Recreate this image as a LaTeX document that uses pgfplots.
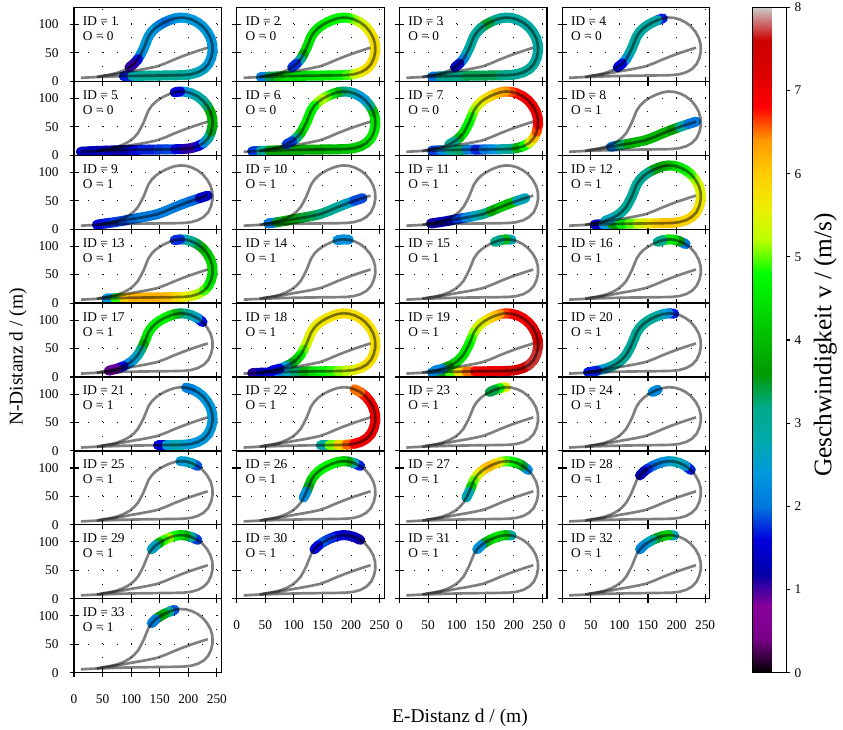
\documentclass[border=0pt]{standalone}
\usepackage{fontspec}
\setmainfont{Liberation Serif}
\usepackage{pgfplots}
\usepackage{pgfplotstable}
\pgfplotsset{compat=1.18}

\pgfplotsset{
  colormap={nipy}{rgb=(0,0,0) rgb=(0.4667,0,0.5333) rgb=(0.5333,0,0.6) rgb=(0,0,0.6667) rgb=(0,0,0.8667) rgb=(0,0.4667,0.8667) rgb=(0,0.6,0.8667) rgb=(0,0.6667,0.6667) rgb=(0,0.6667,0.5333) rgb=(0,0.6,0) rgb=(0,0.7333,0) rgb=(0,0.8667,0) rgb=(0,1,0) rgb=(0.7333,1,0) rgb=(0.9333,0.9333,0) rgb=(1,0.8,0) rgb=(1,0.6,0) rgb=(1,0,0) rgb=(0.8667,0,0) rgb=(0.8,0,0) rgb=(0.8,0.8,0.8)},
  panel/.style={
    anchor=north west, scale only axis, width=110.6pt, height=55.45pt,
    xmin=0, xmax=258, ymin=0, ymax=130,
    xtick={0,50,100,150,200,250}, ytick={0,50,100},
    xticklabels={}, yticklabels={},
    tick pos=left, tick align=center, major tick length=6.75pt,
    tick style={black, line width=0.8pt},
    axis line style={black, line width=0.9pt},
    grid=major, major grid style={black, line width=0.75pt, dash pattern=on 0.75pt off 9.95pt},
    colormap name=nipy, point meta min=0, point meta max=8,
    tick label style={font=\fontsize{10}{12}\selectfont},
    xticklabel shift=9.5pt, yticklabel shift=4.7pt,
  },
  xlab/.style={xticklabels={0,50,100,150,200,250}},
  ylab/.style={yticklabels={0,50,100}},
  band/.style={mesh, shader=flat mean, point meta=explicit, line width=7.5pt, line cap=round, unbounded coords=jump, no markers},
  track/.style={black, opacity=0.5, line width=2pt, no markers, line join=round},
}
\tikzset{idlab/.style={anchor=base west, inner sep=0pt, font=\fontsize{10}{12}\selectfont}}

\newcommand{\panel}[7]{%
\begin{axis}[panel, at={({55.5pt+#1*122.06pt},{-5.48pt-#2*55.45pt})}, #7]
\addplot[band] table[x=x, y expr={\thisrow{y}+0*\thisrow{#6}}, meta=#6] {#5};
\addplot[track] table[x=x, y=y] {\looptable};
\addplot[track] table[x=x, y=y, skip coords between index={0}{2}] {\diagtable};
\node[idlab] at (rel axis cs:0.059,0.757) {ID = #3};
\node[idlab] at (rel axis cs:0.059,0.554) {O = #4};
\end{axis}}

\pgfplotstableread[header=false]{
x    12 27 42 57  72 87 102 117  132 147 162 177  192 205 217 227  235 240 242.5 242  239 233 225 216  206 196 186 176  167 158 150 143  136 130 126 122  117 112 105 97  87 75 61 45
y    6 6.8 7.5 8  8.5 9 9.3 9.6  9.8 10 10.2 10.4  10.8 12.3 15.8 21.5  30 41 53 65  76 87 96.5 103.5  108.5 111.3 112 110.5  107.5 103.5 99 94  87 78 68 58  48 39 31 24.5  19 14.5 11 8.5
v1   nan nan nan nan  nan 0.8 2.6 3.0  3.0 3.0 3.0 3.0  3.0 2.9 2.7 2.7  2.4 2.4 2.4 2.4  2.4 2.4 2.4 2.4  2.4 2.4 2.4 2.4  2.2 2.0 1.9 2.1  2.4 2.4 2.4 2.4  2.4 2.0 1.3 0.8  nan nan nan nan
v2   nan nan 1.4 2.8  4.0 4.4 4.4 4.4  4.4 4.6 4.6 4.6  4.8 5.1 5.5 5.8  5.8 5.8 5.8 5.8  5.8 5.7 5.6 5.4  5.2 5.0 4.7 4.7  4.7 4.7 4.7 4.5  4.5 4.5 4.5 4.5  4.4 3.2 2.5 1.0  nan nan nan nan
v3   nan nan nan 1.2  2.8 3.2 3.2 3.2  3.5 3.2 3.5 3.2  3.2 3.0 3.0 3.0  3.0 2.9 2.9 2.9  2.9 2.9 2.9 2.9  2.9 2.9 2.9 2.9  3.0 3.2 3.6 3.4  2.9 2.9 2.9 2.9  2.8 2.5 1.8 0.9  nan nan nan nan
v4   nan nan nan nan  nan nan nan nan  nan nan nan nan  nan nan nan nan  nan nan nan nan  nan nan nan nan  nan nan nan 0.9  2.5 2.9 2.9 2.9  2.9 2.9 2.9 2.9  2.9 2.6 2.0 1.2  nan nan nan nan
v5   1.3 1.4 1.2 1.4  1.3 1.0 1.4 1.7  1.7 1.7 1.9 1.8  1.3 0.9 1.2 2.0  2.6 3.2 3.8 4.0  3.9 3.6 3.0 2.8  2.8 2.6 2.2 0.9  nan nan nan nan  nan nan nan nan  nan nan nan nan  nan nan nan nan
v6   nan 1.0 2.6 3.4  3.9 3.6 3.9 3.7  4.0 3.7 4.0 4.0  4.0 4.2 4.2 4.2  4.6 4.6 4.6 4.6  4.4 3.6 2.6 2.4  2.5 2.8 3.0 3.6  4.2 4.8 5.2 5.2  5.0 4.6 4.6 4.6  4.6 4.4 3.8 2.5  1.1 nan nan nan
v7   nan nan nan 1.6  2.0 2.5 3.8 2.8  1.4 2.0 2.1 2.6  3.0 3.4 4.4 5.2  5.8 6.4 6.8 7.0  7.0 7.0 7.0 6.9  6.8 6.7 6.5 6.3  6.2 6.0 5.8 5.7  5.5 5.2 5.0 4.8  4.6 4.6 4.4 3.6  2.6 nan nan nan
v12  nan nan nan 0.8  2.0 3.0 4.2 4.8  5.2 5.5 5.8 6.0  6.1 6.0 5.9 5.9  5.9 5.7 5.7 5.5  5.5 5.3 5.0 4.8  4.6 4.4 4.2 3.8  3.6 3.6 3.4 3.0  3.0 3.0 3.0 3.0  3.0 3.0 3.0 2.9  2.9 2.4 nan nan
v13  nan nan nan 0.8  4.0 5.8 6.2 6.2  6.2 6.2 6.2 6.0  5.7 5.5 5.3 5.1  4.8 4.4 4.4 4.4  4.4 4.2 4.0 3.6  3.2 2.9 2.6 0.9  nan nan nan nan  nan nan nan nan  nan nan nan nan  nan nan nan nan
v14  nan nan nan nan  nan nan nan nan  nan nan nan nan  nan nan nan nan  nan nan nan nan  nan nan nan nan  nan 1.8 2.8 1.8  nan nan nan nan  nan nan nan nan  nan nan nan nan  nan nan nan nan
v15  nan nan nan nan  nan nan nan nan  nan nan nan nan  nan nan nan nan  nan nan nan nan  nan nan nan nan  nan 1.6 3.8 4.2  2.0 nan nan nan  nan nan nan nan  nan nan nan nan  nan nan nan nan
v16  nan nan nan nan  nan nan nan nan  nan nan nan nan  nan nan nan nan  nan nan nan nan  nan nan nan 1.2  2.8 4.4 4.6 4.6  1.6 nan nan nan  nan nan nan nan  nan nan nan nan  nan nan nan nan
v17  nan nan nan nan  nan nan nan nan  nan nan nan nan  nan nan nan nan  nan nan nan nan  nan nan 0.9 2.4  2.6 2.9 3.2 3.6  4.4 4.6 4.8 4.6  4.6 4.6 4.6 4.2  3.4 2.8 2.6 2.4  2.0 1.0 0.8 nan
v18  nan 1.0 1.2 1.4  1.8 2.4 3.0 3.6  4.2 4.6 4.8 5.0  5.2 5.4 5.6 5.8  5.8 5.8 5.8 5.8  5.8 5.8 5.8 5.8  5.8 5.8 5.8 5.8  5.8 5.7 5.7 5.7  5.6 5.6 5.6 5.4  5.2 4.8 4.4 4.0  3.0 2.0 1.2 nan
v19  nan nan nan 1.5  2.8 4.4 5.5 6.2  6.8 7.0 7.0 7.0  7.1 7.3 7.5 7.7  7.7 7.7 7.7 7.6  7.4 7.2 7.0 6.9  6.9 6.9 6.8 6.5  6.2 6.0 5.8 5.6  5.4 5.2 5.0 4.8  4.6 4.6 4.5 4.4  4.2 3.0 1.4 nan
v20  nan nan nan nan  nan nan nan nan  nan nan nan nan  nan nan nan nan  nan nan nan nan  nan nan nan nan  nan 1.2 2.2 2.4  2.7 3.0 3.0 3.0  3.0 3.0 3.0 3.0  3.0 3.0 3.0 3.0  3.0 2.8 2.2 1.2
v21  nan nan nan nan  nan nan nan nan  nan 0.9 2.2 2.9  2.6 2.4 2.4 2.4  2.4 2.4 2.4 2.4  2.4 2.4 2.4 2.4  2.4 1.8 nan nan  nan nan nan nan  nan nan nan nan  nan nan nan nan  nan nan nan nan
v22  nan nan nan nan  nan nan nan nan  nan 1.3 4.5 5.6  6.3 6.8 7.0 7.0  7.0 7.0 7.0 7.0  7.0 7.0 6.9 6.6  6.4 nan nan nan  nan nan nan nan  nan nan nan nan  nan nan nan nan  nan nan nan nan
v23  nan nan nan nan  nan nan nan nan  nan nan nan nan  nan nan nan nan  nan nan nan nan  nan nan nan nan  nan nan 5.9 5.0  4.4 2.4 nan nan  nan nan nan nan  nan nan nan nan  nan nan nan nan
v24  nan nan nan nan  nan nan nan nan  nan nan nan nan  nan nan nan nan  nan nan nan nan  nan nan nan nan  nan nan nan nan  1.9 2.5 nan nan  nan nan nan nan  nan nan nan nan  nan nan nan nan
v25  nan nan nan nan  nan nan nan nan  nan nan nan nan  nan nan nan nan  nan nan nan nan  nan nan nan 1.2  2.6 2.8 2.2 nan  nan nan nan nan  nan nan nan nan  nan nan nan nan  nan nan nan nan
v26  nan nan nan nan  nan nan nan nan  nan nan nan nan  nan nan nan nan  nan nan nan nan  nan nan nan 1.0  2.4 3.4 4.2 4.4  4.6 4.8 4.8 4.7  4.6 4.4 4.0 3.0  1.6 nan nan nan  nan nan nan nan
v27  nan nan nan nan  nan nan nan nan  nan nan nan nan  nan nan nan nan  nan nan nan nan  nan nan 1.8 2.8  4.2 4.6 4.8 5.2  5.8 6.1 6.2 6.0  5.6 5.2 4.8 3.6  1.8 nan nan nan  nan nan nan nan
v28  nan nan nan nan  nan nan nan nan  nan nan nan nan  nan nan nan nan  nan nan nan nan  nan nan 1.0 2.4  2.6 2.8 2.6 2.4  2.2 2.0 1.9 1.6  0.9 nan nan nan  nan nan nan nan  nan nan nan nan
v29  nan nan nan nan  nan nan nan nan  nan nan nan nan  nan nan nan nan  nan nan nan nan  nan nan nan 1.0  2.6 3.6 4.2 4.6  5.0 5.2 4.6 3.0  2.2 nan nan nan  nan nan nan nan  nan nan nan nan
v30  nan nan nan nan  nan nan nan nan  nan nan nan nan  nan nan nan nan  nan nan nan nan  nan nan nan 0.9  1.4 1.5 1.3 1.5  1.7 1.8 1.8 2.0  1.2 nan nan nan  nan nan nan nan  nan nan nan nan
v31  nan nan nan nan  nan nan nan nan  nan nan nan nan  nan nan nan nan  nan nan nan nan  nan nan nan nan  nan 2.2 3.6 4.4  4.5 4.4 4.0 3.0  1.6 nan nan nan  nan nan nan nan  nan nan nan nan
v32  nan nan nan nan  nan nan nan nan  nan nan nan nan  nan nan nan nan  nan nan nan nan  nan nan nan nan  nan 1.4 4.0 4.4  3.8 3.2 2.8 2.4  2.0 nan nan nan  nan nan nan nan  nan nan nan nan
v33  nan nan nan nan  nan nan nan nan  nan nan nan nan  nan nan nan nan  nan nan nan nan  nan nan nan nan  nan nan nan 1.0  2.8 3.4 4.2 3.0  1.2 nan nan nan  nan nan nan nan  nan nan nan nan
}\loopraw
\pgfplotstabletranspose[colnames from=0]{\looptable}{\loopraw}
\pgfplotstableread[header=false]{
x    12 25 40 55  70 85 100 115  130 145 160 175  190 205 220 234
y    6 6.8 7.7 10  12 14.5 17.5 20  22.8 26 31.5 38  44 49.5 54.5 59
v8   nan nan nan nan  nan 1.0 3.0 3.6  4.0 4.0 3.9 4.0  3.8 3.4 2.6 1.4
v9   nan nan 1.5 1.6  1.8 1.8 1.9 2.0  2.1 2.0 2.1 2.1  2.0 2.0 1.9 0.9
v10  nan nan nan 0.9  3.2 3.8 3.6 3.5  3.4 3.3 3.2 3.0  2.8 2.4 1.3 nan
v11  nan nan nan 0.9  1.4 1.3 1.6 2.0  2.4 2.9 3.5 4.0  4.3 3.8 1.6 nan
}\diagraw
\pgfplotstabletranspose[colnames from=0]{\diagtable}{\diagraw}

\begin{document}%
\begin{tikzpicture}
\useasboundingbox (0pt,0pt) rectangle (632.25pt,-546.75pt);
\panel{0}{0}{1}{0}{\looptable}{v1}{ylab}
\panel{1}{0}{2}{0}{\looptable}{v2}{}
\panel{2}{0}{3}{0}{\looptable}{v3}{}
\panel{3}{0}{4}{0}{\looptable}{v4}{colorbar, colorbar shift/.style={xshift=31.72pt}, colorbar style={scale only axis, width=25.5pt, height=499.05pt, ytick={0,1,2,3,4,5,6,7,8}, yticklabels={0,1,2,3,4,5,6,7,8}, ytick pos=right, yticklabel pos=right, tick align=outside, major tick length=2.5pt, tick style={black, line width=0.8pt}, axis line style={black, line width=0.8pt}, yticklabel style={font=\fontsize{10}{12}\selectfont}}}
\panel{0}{1}{5}{0}{\looptable}{v5}{ylab}
\panel{1}{1}{6}{0}{\looptable}{v6}{}
\panel{2}{1}{7}{0}{\looptable}{v7}{}
\panel{3}{1}{8}{1}{\diagtable}{v8}{}
\panel{0}{2}{9}{1}{\diagtable}{v9}{ylab}
\panel{1}{2}{10}{1}{\diagtable}{v10}{}
\panel{2}{2}{11}{1}{\diagtable}{v11}{}
\panel{3}{2}{12}{1}{\looptable}{v12}{}
\panel{0}{3}{13}{1}{\looptable}{v13}{ylab}
\panel{1}{3}{14}{1}{\looptable}{v14}{}
\panel{2}{3}{15}{1}{\looptable}{v15}{}
\panel{3}{3}{16}{1}{\looptable}{v16}{}
\panel{0}{4}{17}{1}{\looptable}{v17}{ylab}
\panel{1}{4}{18}{1}{\looptable}{v18}{}
\panel{2}{4}{19}{1}{\looptable}{v19}{}
\panel{3}{4}{20}{1}{\looptable}{v20}{}
\panel{0}{5}{21}{1}{\looptable}{v21}{ylab}
\panel{1}{5}{22}{1}{\looptable}{v22}{}
\panel{2}{5}{23}{1}{\looptable}{v23}{}
\panel{3}{5}{24}{1}{\looptable}{v24}{}
\panel{0}{6}{25}{1}{\looptable}{v25}{ylab}
\panel{1}{6}{26}{1}{\looptable}{v26}{}
\panel{2}{6}{27}{1}{\looptable}{v27}{}
\panel{3}{6}{28}{1}{\looptable}{v28}{}
\panel{0}{7}{29}{1}{\looptable}{v29}{ylab}
\panel{1}{7}{30}{1}{\looptable}{v30}{xlab}
\panel{2}{7}{31}{1}{\looptable}{v31}{xlab}
\panel{3}{7}{32}{1}{\looptable}{v32}{xlab}
\panel{0}{8}{33}{1}{\looptable}{v33}{ylab, xlab}
\node[font=\fontsize{14.6}{17}\selectfont] at (345pt,-538.5pt) {E-Distanz d / (m)};
\node[font=\fontsize{14.6}{17}\selectfont, rotate=90] at (13.5pt,-267.75pt) {N-Distanz d / (m)};
\node[font=\fontsize{19}{23}\selectfont, rotate=90] at (619pt,-258.75pt) {Geschwindigkeit v / (m/s)};
\end{tikzpicture}%
\end{document}
